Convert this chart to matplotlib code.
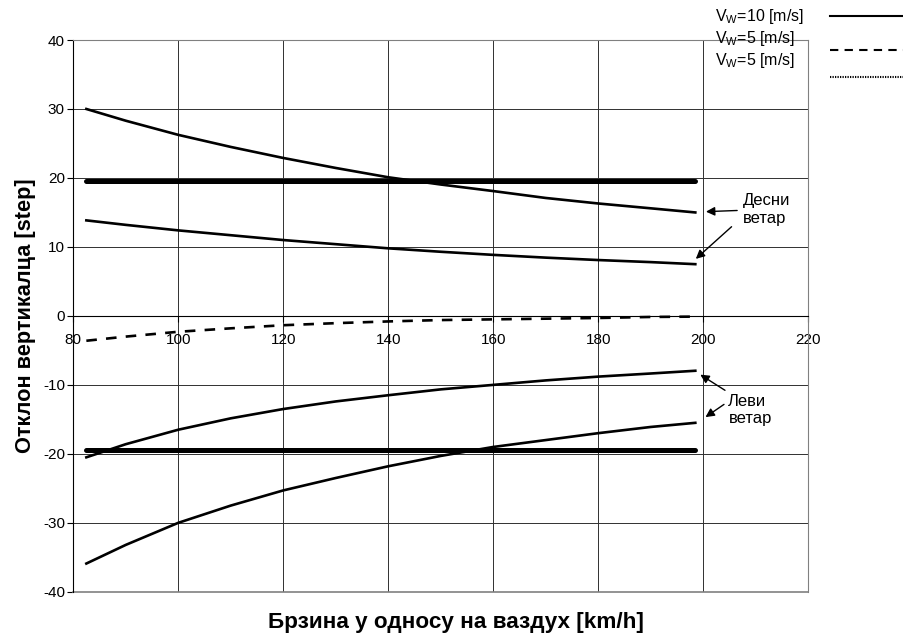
import matplotlib
matplotlib.use("Agg")
import matplotlib.pyplot as plt
from matplotlib.lines import Line2D

plt.rcParams['font.family'] = ['Liberation Sans', 'DejaVu Sans']
plt.rcParams['axes.unicode_minus'] = False

# брзина [km/h]
speed = [82.5, 90, 100, 110, 120, 130, 140, 150, 160, 170, 180, 190, 198.5]

# десни ветар
right_10 = [30.0, 28.3, 26.25, 24.5, 22.9, 21.45, 20.1, 19.05, 18.1, 17.1, 16.3, 15.6, 15.0]
right_5 = [13.85, 13.2, 12.4, 11.7, 11.0, 10.4, 9.8, 9.3, 8.85, 8.45, 8.1, 7.8, 7.5]
# леви ветар
left_5 = [-20.5, -18.6, -16.5, -14.85, -13.5, -12.4, -11.5, -10.65, -10.0, -9.35, -8.8, -8.35, -7.95]
left_10 = [-35.9, -33.2, -30.0, -27.5, -25.3, -23.5, -21.8, -20.3, -19.0, -18.0, -17.0, -16.1, -15.5]
# без бочног ветра
center = [-3.6, -3.0, -2.3, -1.8, -1.35, -1.05, -0.8, -0.6, -0.5, -0.4, -0.3, -0.15, -0.1]

limit_x = [82.5, 198.5]
limit_val = 19.5

fig = plt.figure(figsize=(9.04, 6.35), dpi=100)
ax = fig.add_axes([0.081, 0.068, 0.813, 0.869])

ax.plot(limit_x, [limit_val, limit_val], color='black', lw=3.6, solid_capstyle='round')
ax.plot(limit_x, [-limit_val, -limit_val], color='black', lw=3.6, solid_capstyle='round')
ax.plot(speed, right_10, color='black', lw=1.9)
ax.plot(speed, right_5, color='black', lw=1.9)
ax.plot(speed, left_5, color='black', lw=1.9)
ax.plot(speed, left_10, color='black', lw=1.9)
ax.plot(speed, center, color='black', lw=1.9, dashes=(4, 3.5))

ax.set_xlim(80, 220)
ax.set_ylim(-40, 40)
ax.set_xticks(range(80, 221, 20))
ax.set_yticks(range(-40, 41, 10))
ax.grid(True, color='#303030', lw=0.7)
ax.set_axisbelow(True)

ax.spines['bottom'].set_position(('data', 0))
ax.spines['bottom'].set_color('black')
ax.spines['left'].set_color('black')
ax.spines['top'].set_color('#808080')
ax.spines['right'].set_color('#808080')
ax.axhline(-40, color='#808080', lw=1.2, clip_on=False)
ax.tick_params(axis='both', direction='out', length=4, labelsize=11, pad=2)
ax.tick_params(axis='x', pad=8)

ax.set_ylabel('Отклон вертикалца [step]', fontsize=15.7, fontweight='bold', labelpad=5)
fig.text(0.504, 0.019, 'Брзина у односу на ваздух [km/h]', fontsize=16.2,
         fontweight='bold', ha='center', va='center')

# стрелице
arrow = dict(arrowstyle='-|>', color='black', lw=1.0, mutation_scale=13)
ax.text(207.6, 15.4, 'Десни\nветар', fontsize=12, ha='left', va='center', linespacing=1.2)
ax.annotate('', xy=(200, 15.1), xytext=(207, 15.3), arrowprops=arrow)
ax.annotate('', xy=(198.2, 8.0), xytext=(205.8, 13.2), arrowprops=arrow)
ax.text(204.8, -13.6, 'Леви\nветар', fontsize=12, ha='left', va='center', linespacing=1.2)
ax.annotate('', xy=(199, -8.3), xytext=(204.6, -11.0), arrowprops=arrow)
ax.annotate('', xy=(200, -14.9), xytext=(204.4, -12.6), arrowprops=arrow)

# легенда
leg_labels = [r'V$_\mathregular{W}$=10 [m/s]', r'V$_\mathregular{W}$=5 [m/s]', r'V$_\mathregular{W}$=5 [m/s]']
leg_text_y = [1 - 16 / 635, 1 - 38 / 635, 1 - 60 / 635]
leg_line_y = [1 - 16 / 635, 1 - 50 / 635, 1 - 77 / 635]
leg_styles = [dict(ls='-'), dict(dashes=(4, 3)), dict(ls=(0, (0.6, 0.6)))]
for lab, ty, ly, st in zip(leg_labels, leg_text_y, leg_line_y, leg_styles):
    fig.text(715 / 904, ty, lab, fontsize=11.5, ha='left', va='center')
    fig.add_artist(Line2D([830 / 904, 903 / 904], [ly, ly], color='black', lw=1.5,
                          transform=fig.transFigure, **st))

fig.savefig('out.png', dpi=100)
